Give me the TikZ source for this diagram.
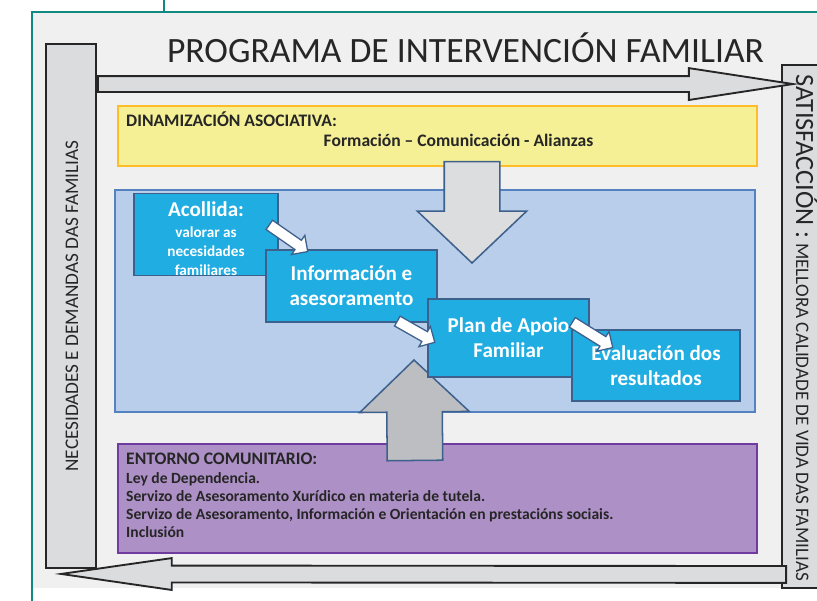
\documentclass[tikz,border=0pt]{standalone}
\usepackage{fontspec}
\setmainfont{Carlito}
\usetikzlibrary{shapes.arrows,calc,positioning}

\definecolor{frameteal}{RGB}{16,138,128}
\definecolor{framegray}{RGB}{240,240,240}
\definecolor{colgray}{RGB}{219,220,222}
\definecolor{darkline}{RGB}{38,38,38}
\definecolor{dinamfill}{RGB}{245,240,150}
\definecolor{dinamline}{RGB}{255,190,40}
\definecolor{areafill}{RGB}{184,206,234}
\definecolor{arealine}{RGB}{84,130,192}
\definecolor{stepfill}{RGB}{32,173,226}
\definecolor{stepline}{RGB}{62,96,140}
\definecolor{downgray}{RGB}{220,221,223}
\definecolor{upgray}{RGB}{189,190,194}
\definecolor{entornofill}{RGB}{173,144,198}
\definecolor{entornoline}{RGB}{112,60,160}
\definecolor{textdark}{RGB}{38,38,38}

\tikzset{
  column/.style={draw=darkline, line width=1.6pt, fill=colgray, inner sep=0},
  panel/.style={line width=1.3pt, inner sep=0},
  stepbox/.style={draw=stepline, line width=1.3pt, fill=stepfill, text=white,
    align=center, inner sep=0, font=\fontsize{18}{21.3}\selectfont\bfseries},
  flatarrow/.style={single arrow, draw=darkline, line width=1.6pt, fill=colgray,
    inner xsep=0, inner ysep=0.21cm, single arrow head extend=0.24cm, single arrow tip angle=17.4},
  bigarrow/.style={single arrow, draw=stepline, line width=1.3pt, fill=downgray,
    inner xsep=0, inner ysep=0.81cm, single arrow head extend=0.81cm, single arrow tip angle=93},
  whitearrow/.style={single arrow, draw=stepline, line width=1.1pt, fill=white,
    inner xsep=0, inner ysep=0.15cm, single arrow head extend=0.18cm, single arrow tip angle=90},
  darktext/.style={text=textdark, inner sep=0}
}

% block arrow from a tail point to a tip point, as a rotated single arrow
\newcommand{\blockArrow}[3]{%
  \path let \p1=($(#3)-(#2)$), \n1={atan2(\y1,\x1)}, \n2={veclen(\x1,\y1)} in
    node[#1, minimum height=\n2, rotate=\n1, anchor=tail] at (#2) {};}

\begin{document}
\begin{tikzpicture}[x=0.03cm, y=-0.03cm]
    \useasboundingbox (0,0) rectangle (817,601);
    \clip (0,0) rectangle (817,601);

    % --- Frame ---
    \fill[framegray] (33,13) rectangle (817,588);
    \draw[frameteal, line width=1.8pt] (32,601) -- (32,12) -- (817,12);
    \draw[frameteal, line width=1.8pt] (164,0) -- (164,12);

    % --- Side columns ---
    \node[column, minimum width=1.5cm, minimum height=15.72cm] (needs) at (71,306) {};
    \node[column, minimum width=1.74cm, minimum height=15.69cm] (satis) at (811,326.5) {};
    \node[darktext, rotate=90, font=\fontsize{16.4}{19}\selectfont] (needslabel) at (72,306)
      {NECESIDADES E DEMANDAS DAS FAMILIAS};
    \node[darktext, rotate=-90, anchor=base west, font=\fontsize{16.3}{19}\selectfont] (satislabel) at (796,74)
      {{\fontsize{22.5}{26}\selectfont SATISFACCIÓN :} MELLORA CALIDADE DE VIDA DAS FAMILIAS};

    % --- Flow arrows between the columns ---
    \coordinate (toptail) at ($(needs.north east)+(0,41)$);
    \coordinate (toptip) at ($(satis.north west)+(11,20)$);
    \coordinate (bottail) at ($(satis.south west)+(6,-14.5)$);
    \coordinate (bottip) at ($(needs.south west)+(17,5)$);
    \blockArrow{flatarrow}{toptail}{toptip}
    \blockArrow{flatarrow, single arrow tip angle=16.4, inner ysep=0.225cm, single arrow head extend=0.225cm}{bottail}{bottip}

    % --- Title ---
    \node[darktext, anchor=base, font=\fontsize{30.4}{36}\selectfont] (title) at (465.5,63)
      {PROGRAMA DE INTERVENCIÓN FAMILIAR};

    % --- Panels ---
    \node[panel, draw=dinamline, fill=dinamfill, minimum width=19.17cm, minimum height=1.8cm] (dinam) at (437.5,136) {};
    \node[darktext, anchor=base west, font=\fontsize{15}{18}\selectfont\bfseries] (dinamtitle) at (126,127)
      {DINAMIZACIÓN ASOCIATIVA:};
    \node[darktext, anchor=base, font=\fontsize{15}{18}\selectfont\bfseries] (dinamtext) at (458.5,147)
      {Formación -- Comunicación - Alianzas};

    \node[panel, draw=arealine, fill=areafill, minimum width=19.2cm, minimum height=6.66cm] (area) at (435,301) {};

    \node[panel, draw=entornoline, fill=entornofill, minimum width=19.17cm, minimum height=3.27cm] (entorno) at (437.5,498.5) {};
    \node[darktext, anchor=base west, font=\fontsize{15}{18}\selectfont\bfseries] (entornotitle) at (126,464)
      {ENTORNO COMUNITARIO:};
    \node[darktext, anchor=north west, align=left, font=\fontsize{13.3}{15.4}\selectfont\bfseries] (entornolist) at (126,472)
      {Ley de Dependencia.\\
       Servizo de Asesoramento Xurídico en materia de tutela.\\
       Servizo de Asesoramento, Información e Orientación en prestacións sociais.\\
       Inclusión};

    % --- Big grey arrows ---
    \coordinate (downtail) at ($(dinam.south)+(34.5,-6)$);
    \coordinate (downtip) at ($(area.north)+(37,73)$);
    \coordinate (uptail) at ($(entorno.north)+(-22.5,18)$);
    \coordinate (uptip) at ($(area.south)+(-21,-52)$);
    \blockArrow{bigarrow}{downtail}{downtip}
    \blockArrow{bigarrow, fill=upgray}{uptail}{uptip}

    % --- Steps ---
    \node[stepbox, minimum width=4.32cm, minimum height=2.37cm, font=\fontsize{13}{16}\selectfont\bfseries] (acollida) at (206,234.5)
      {\rule{0pt}{19.6pt}{\fontsize{18}{21.3}\selectfont Acollida:}\\[2pt]valorar as\\necesidades\\familiares};
    \node[stepbox, minimum width=5.13cm, minimum height=2.16cm] (info) at (351.5,286)
      {Información e\\asesoramento};
    \node[stepbox, minimum width=4.83cm, minimum height=2.34cm] (plan) at (508.5,338)
      {Plan de Apoio\\Familiar};
    \node[stepbox, minimum width=5.04cm, minimum height=2.13cm] (eval) at (656,365.5)
      {Evaluación dos\\resultados};

    % --- White step arrows ---
    \coordinate (a1) at ($(acollida.east)+(-10,-10)$);
    \coordinate (b1) at ($(info.north west)+(42,2)$);
    \coordinate (a2) at ($(info.south east)+(-41,-2)$);
    \coordinate (b2) at ($(plan.west)+(7,4)$);
    \coordinate (a3) at ($(plan.east)+(-18,-16)$);
    \coordinate (b3) at ($(eval.north west)+(41,18)$);
    \blockArrow{whitearrow}{a1}{b1}
    \blockArrow{whitearrow}{a2}{b2}
    \blockArrow{whitearrow}{a3}{b3}

\end{tikzpicture}
\end{document}
